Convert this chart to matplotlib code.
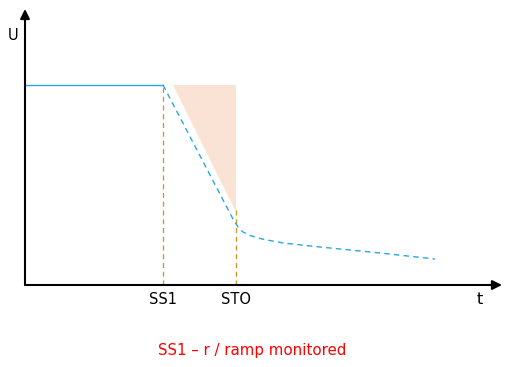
import matplotlib.pyplot as plt
import numpy as np

# time axis positions (arbitrary units)
t_ss1 = 1.38
t_sto = 2.11
t_axis_end = 4.77
v_axis_end = 2.76

# speed before SS1
v_start = 2.0

# speed profile after SS1 (dashed curve)
curve_t = [1.38, 2.08, 2.13, 2.18, 2.25, 2.37, 2.58, 2.95, 3.55, 4.10]
curve_v = [2.00, 0.66, 0.58, 0.53, 0.495, 0.46, 0.42, 0.38, 0.32, 0.26]

# monitored ramp window (shaded)
shade_t = [1.48, 2.11, 2.11]
shade_v = [2.00, 2.00, 0.73]

sto_line_top = 0.75

tick_names = ["SS1", "STO"]
tick_pos = [t_ss1, t_sto]

caption = "SS1 \u2013 r / ramp monitored"

fig = plt.figure(figsize=(5.30, 3.67), dpi=100)
ax = fig.add_axes([0, 0, 1, 1])
ax.set_xlim(-0.25, 5.05)
ax.set_ylim(-0.82, 2.85)
ax.axis("off")

blue = "#29a8e0"
gold = "#c8961e"

# shaded window
ax.fill(shade_t, shade_v, color="#fae3d5", lw=0, zorder=1)

# constant speed before SS1
ax.plot([0, t_ss1], [v_start, v_start], color=blue, lw=1.0, zorder=3)

# ramp + decay after SS1
ax.plot(curve_t, curve_v, color=blue, lw=1.0, ls=(0, (4, 3)), zorder=3)

# SS1 and STO markers
ax.plot([t_ss1, t_ss1], [0, v_start], color=gold, lw=0.9, ls=(0, (4, 3)), zorder=2)
ax.plot([t_sto, t_sto], [0, sto_line_top], color=gold, lw=0.9, ls=(0, (4, 3)), zorder=2)

# axes with arrows
ax.annotate("", xy=(t_axis_end, 0), xytext=(0, 0),
            arrowprops=dict(arrowstyle="-|>", color="black", lw=1.5,
                            mutation_scale=14, shrinkA=0, shrinkB=0))
ax.annotate("", xy=(0, v_axis_end), xytext=(0, 0),
            arrowprops=dict(arrowstyle="-|>", color="black", lw=1.5,
                            mutation_scale=14, shrinkA=0, shrinkB=0))

for name, pos in zip(tick_names, tick_pos):
    ax.text(pos, -0.14, name, ha="center", va="center", fontsize=10.5)

ax.text(4.55, -0.15, "t", ha="center", va="center", fontsize=11.5)
ax.text(-0.12, 2.49, "U", ha="center", va="center", fontsize=10.5)

ax.text(2.27, -0.65, caption, ha="center", va="center", fontsize=10.8, color="red")

fig.savefig("out.png", dpi=100)
